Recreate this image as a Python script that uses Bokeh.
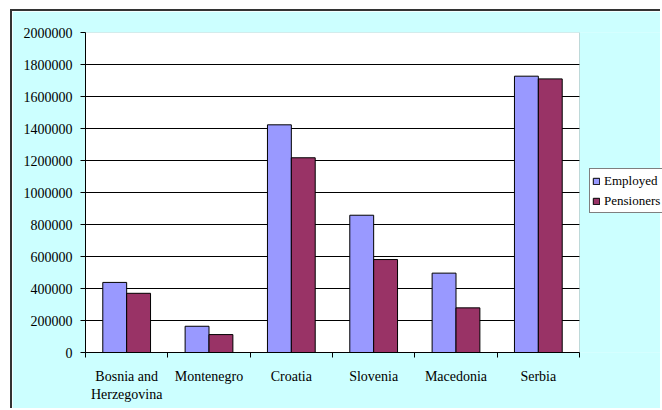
from bokeh.plotting import figure
from bokeh.models import FixedTicker, ColumnDataSource, Legend, LegendItem, Range1d, BoxAnnotation
from bokeh.embed import file_html
from bokeh.resources import INLINE

countries = ["Bosnia and\nHerzegovina", "Montenegro", "Croatia", "Slovenia", "Macedonia", "Serbia"]
employed = [438000, 164000, 1423000, 858000, 496000, 1727000]
pensioners = [370000, 112000, 1217000, 581000, 279000, 1710000]
y_ticks = [0, 200000, 400000, 600000, 800000, 1000000, 1200000, 1400000, 1600000, 1800000, 2000000]

n = len(countries)
y_max = 2000000
centers = [i + 0.5 for i in range(n)]
bw = 0.29
src = ColumnDataSource(dict(
    xe=[c - bw / 2 for c in centers], xp=[c + bw / 2 for c in centers],
    emp=employed, pen=pensioners))

FONT = "Liberation Serif"
BG = "#CCFFFF"

# frame spans plot area plus the legend zone to its right
x_end = n * 577 / 494
p = figure(width=650, height=399, output_backend="svg", toolbar_location=None,
           x_range=Range1d(0, x_end), y_range=Range1d(0, y_max),
           min_border_left=73, min_border_top=21, min_border_right=0, min_border_bottom=58)
p.margin = (9, 0, 0, 10)
p.styles = {"border-left": "2px solid #333333", "border-top": "2px solid #333333"}
p.border_fill_color = BG
p.background_fill_color = BG
p.outline_line_color = None

plot_area = BoxAnnotation(left=0, right=n, bottom=0, top=y_max, fill_color="white", fill_alpha=1,
                          line_color=None, level="image")
p.add_layout(plot_area)

p.xgrid.visible = False
p.ygrid.grid_line_color = "black"
p.ygrid.grid_line_width = 1
p.ygrid.ticker = FixedTicker(ticks=y_ticks[1:-1])

# hide grid beyond the plot area (legend zone)
cover = BoxAnnotation(left=n, fill_color=BG, fill_alpha=1, line_color=None, level="glyph")
p.add_layout(cover)
plot_outline = BoxAnnotation(left=0, right=n, bottom=0, top=y_max, fill_alpha=0,
                             line_color="#808080", line_width=1, level="glyph")
p.add_layout(plot_outline)

re = p.vbar(x="xe", top="emp", width=bw, source=src, fill_color="#9999FF", line_color="black", line_width=1)
rp = p.vbar(x="xp", top="pen", width=bw, source=src, fill_color="#993366", line_color="black", line_width=1)

ya = p.yaxis[0]
ya.ticker = FixedTicker(ticks=y_ticks)
ya.formatter.use_scientific = False
ya.axis_line_color = "black"
ya.major_tick_line_color = "black"
ya.major_tick_out = 5
ya.major_tick_in = 0
ya.minor_tick_out = 0
ya.minor_tick_in = 0
ya.major_label_standoff = 8
ya.major_label_text_font = FONT
ya.major_label_text_font_size = "14px"
ya.major_label_text_color = "black"

xa = p.xaxis[0]
xa.ticker = FixedTicker(ticks=centers, minor_ticks=list(range(n + 1)))
xa.major_label_overrides = {c: lab for c, lab in zip(centers, countries)}
xa.bounds = (0, n)
xa.axis_line_color = "black"
xa.major_tick_out = 0
xa.major_tick_in = 0
xa.minor_tick_line_color = "black"
xa.minor_tick_out = 5
xa.minor_tick_in = 0
xa.major_label_standoff = 11
xa.major_label_text_font = FONT
xa.major_label_text_font_size = "14px"
xa.major_label_text_color = "black"

legend = Legend(items=[LegendItem(label="Employed", renderers=[re]),
                       LegendItem(label="Pensioners", renderers=[rp])],
                location=(504, 139))
legend.label_text_font = FONT
legend.label_text_font_size = "13px"
legend.label_text_color = "black"
legend.glyph_width = 8
legend.glyph_height = 8
legend.label_standoff = 4
legend.label_height = 19
legend.padding = 2
legend.spacing = 1
legend.margin = 0
legend.border_line_color = "black"
legend.border_line_width = 1
legend.background_fill_color = "white"
legend.background_fill_alpha = 1
p.add_layout(legend)

open("out.html", "w").write(file_html(p, INLINE))
